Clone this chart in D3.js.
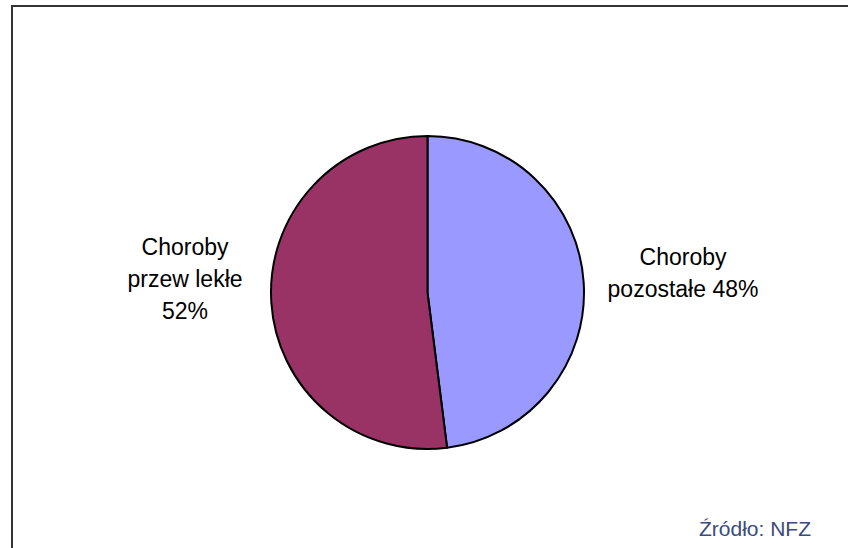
<!DOCTYPE html>
<html>
<head>
<meta charset="utf-8">
<script src="https://cdn.jsdelivr.net/npm/d3@7"></script>
<style>
  body { margin: 0; background: #fff; }
  svg { display: block; font-family: "Liberation Sans", Arial, sans-serif; }
</style>
</head>
<body>
<svg width="848" height="548"></svg>
<script>
// data
const categories = ["Choroby pozostałe", "Choroby przewlekłe"];
const values = [48, 52];
const labelLines = [["Choroby", "pozostałe 48%"], ["Choroby", "przew lekłe", "52%"]];
const colors = ["#9999ff", "#993366"];
const source = "Źródło: NFZ";

const svg = d3.select("svg");

// frame (right and bottom edges fall outside the picture)
svg.append("rect")
  .attr("x", 12)
  .attr("y", 6)
  .attr("width", 900)
  .attr("height", 600)
  .attr("fill", "none")
  .attr("stroke", "#333")
  .attr("stroke-width", 2);

const cx = 427.5, cy = 292.5, radius = 156.5;

const pie = d3.pie().sort(null).value(d => d);
const arc = d3.arc().innerRadius(0).outerRadius(radius);
const color = d3.scaleOrdinal().domain(categories).range(colors);

const slices = pie(values);

const g = svg.append("g").attr("transform", `translate(${cx},${cy})`);

g.selectAll("path")
  .data(slices)
  .enter()
  .append("path")
  .attr("d", arc)
  .attr("fill", (d, i) => color(categories[i]))
  .attr("stroke", "#000")
  .attr("stroke-width", 2)
  .attr("stroke-linejoin", "round");

// labels sit out to the side of each slice
const labelArc = d3.arc().innerRadius(252).outerRadius(252);
const lineH = 32;

const labels = g.selectAll("text.label")
  .data(slices)
  .enter()
  .append("text")
  .attr("class", "label")
  .attr("text-anchor", "middle")
  .attr("font-size", 23)
  .attr("fill", "#000")
  .attr("transform", (d, i) => {
    const c = labelArc.centroid(d);
    const n = labelLines[i].length;
    const top = -(n - 1) * lineH / 2 - 8.5 + (i === 0 ? -3 : 3);
    return `translate(${c[0] + (i === 0 ? 4 : 9)},${top})`;
  });

labels.selectAll("tspan")
  .data((d, i) => labelLines[i])
  .enter()
  .append("tspan")
  .attr("x", 0)
  .attr("y", (d, i) => i * lineH)
  .text(d => d);

svg.append("text")
  .attr("x", 811)
  .attr("y", 536)
  .attr("text-anchor", "end")
  .attr("font-size", 21)
  .attr("fill", "#3b4b7b")
  .text(source);
</script>
</body>
</html>
